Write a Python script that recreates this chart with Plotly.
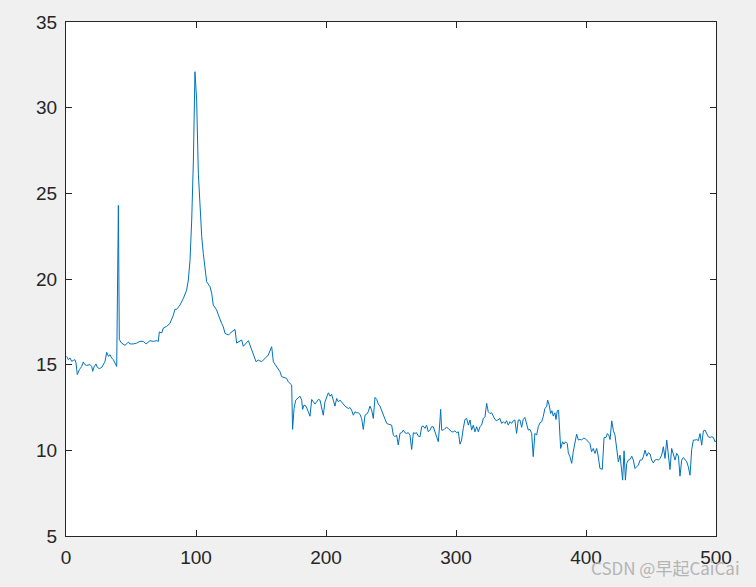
import plotly.graph_objects as go

# values, in x order
x_vals = [
    0.5, 1.8, 3.1, 4.4, 5.7, 6.9, 7.7, 8.7, 10.3, 12.1, 13.3, 14.6, 15.9, 18.5,
    19.8, 20.5, 21.8, 23.1, 24.1, 25.7, 27.5, 28.7, 30.0, 31.3, 32.6, 33.9,
    35.1, 36.4, 37.7, 39.0, 40.3, 41.0, 42.8, 45.4, 48.0, 49.2, 51.8, 54.4,
    56.9, 59.5, 61.6, 62.6, 64.6, 67.2, 69.8, 71.0, 71.8, 73.6, 74.9, 77.5,
    80.0, 82.6, 83.8, 85.1, 87.7, 90.3, 92.8, 94.1, 95.4, 96.7, 98.0, 99.2,
    100.5, 101.8, 103.1, 104.4, 105.6, 106.9, 108.2, 110.8, 112.1, 113.3,
    115.9, 117.2, 118.5, 119.7, 121.0, 122.3, 124.9, 126.2, 130.0, 131.3,
    135.1, 136.4, 140.3, 144.1, 146.2, 147.9, 150.5, 155.6, 158.2, 159.5,
    162.1, 164.6, 165.9, 167.2, 169.7, 171.0, 172.3, 173.6, 174.3, 175.4,
    176.7, 178.7, 180.0, 181.3, 182.0, 183.1, 184.6, 186.4, 187.7, 189.0,
    190.2, 191.5, 192.8, 194.1, 195.4, 196.7, 197.9, 199.2, 200.5, 201.8,
    203.1, 204.3, 205.6, 206.9, 208.2, 209.5, 210.8, 212.0, 213.3, 214.6,
    215.9, 217.2, 218.4, 219.7, 221.0, 222.3, 223.6, 224.9, 226.1, 227.4,
    228.7, 230.0, 231.3, 232.5, 233.8, 235.1, 236.4, 237.7, 239.0, 240.2,
    241.5, 242.8, 244.1, 245.4, 246.7, 247.9, 249.2, 250.5, 251.8, 253.1,
    254.3, 255.6, 256.9, 258.2, 259.5, 260.7, 262.0, 263.3, 264.6, 265.9,
    267.2, 268.4, 269.7, 271.0, 272.3, 273.6, 274.8, 276.1, 277.4, 278.7,
    280.0, 281.3, 282.5, 283.8, 285.1, 286.4, 287.7, 288.2, 289.0, 290.2,
    291.5, 292.8, 294.1, 295.4, 296.7, 297.9, 299.2, 300.5, 301.8, 303.1,
    304.3, 305.6, 306.9, 308.2, 309.5, 310.8, 312.0, 313.3, 314.6, 315.9,
    317.2, 318.4, 319.7, 321.0, 322.3, 323.6, 324.8, 326.1, 327.4, 328.7,
    330.0, 331.3, 332.5, 333.8, 335.1, 336.4, 337.7, 338.9, 340.2, 341.5,
    342.8, 344.1, 345.3, 346.6, 347.9, 349.2, 350.5, 351.7, 353.0, 354.3,
    355.6, 356.9, 358.2, 359.4, 360.7, 362.0, 363.3, 364.6, 365.9, 367.1,
    368.4, 369.7, 370.5, 371.7, 372.8, 373.8, 374.8, 376.1, 376.9, 377.9,
    378.9, 380.5, 382.0, 383.0, 384.3, 385.6, 386.4, 387.6, 389.0, 390.2,
    391.5, 392.8, 394.1, 395.3, 396.6, 397.9, 399.2, 400.5, 401.7, 403.0,
    404.3, 405.6, 406.9, 408.2, 409.4, 410.7, 412.5, 413.9, 415.4, 416.4,
    417.5, 418.5, 419.8, 421.1, 422.3, 423.6, 424.9, 426.2, 427.0, 428.2,
    429.3, 430.3, 431.3, 432.6, 433.9, 435.2, 436.4, 437.7, 439.0, 440.3,
    441.6, 442.9, 444.1, 445.4, 446.7, 448.0, 449.3, 450.5, 451.8, 453.1,
    454.4, 455.7, 457.0, 458.2, 459.5, 460.8, 462.1, 463.4, 464.6, 465.9,
    467.2, 468.5, 469.8, 471.1, 472.3, 473.6, 474.9, 476.2, 477.5, 478.7,
    480.0, 481.3, 482.6, 483.9, 485.2, 486.4, 487.7, 489.0, 490.3, 491.6,
    492.9, 494.1, 495.4, 496.7, 498.0, 499.2, 500.0,
]

y_vals = [
    15.49, 15.29, 15.39, 15.19, 15.25, 15.29, 15.10, 14.42, 14.71, 14.90, 15.16,
    15.00, 14.96, 15.00, 14.90, 14.61, 14.90, 15.04, 14.84, 14.77, 14.84, 15.00,
    15.19, 15.72, 15.49, 15.58, 15.39, 15.29, 15.10, 14.90, 24.30, 16.46, 16.26,
    16.13, 16.32, 16.21, 16.21, 16.26, 16.36, 16.36, 16.21, 16.26, 16.40, 16.36,
    16.40, 16.36, 16.91, 16.85, 17.14, 17.24, 17.41, 17.90, 18.23, 18.23, 18.48,
    18.87, 19.35, 19.94, 21.10, 23.44, 26.94, 32.10, 30.45, 26.17, 24.22, 22.47,
    21.50, 20.52, 19.84, 19.55, 19.16, 18.48, 18.19, 17.90, 17.60, 17.41, 17.21,
    16.83, 16.73, 16.83, 17.06, 16.26, 16.44, 16.07, 16.40, 15.66, 15.17, 15.27,
    15.17, 15.56, 16.05, 15.17, 14.88, 14.59, 14.30, 14.25, 14.20, 14.00, 13.87,
    13.81, 11.22, 12.44, 12.93, 13.09, 13.16, 12.93, 12.39, 12.64, 12.58, 12.25,
    11.99, 12.97, 12.83, 12.70, 12.83, 12.97, 12.93, 12.44, 12.05, 12.83, 13.16,
    13.36, 13.16, 13.28, 12.93, 12.58, 13.03, 12.83, 12.93, 12.78, 12.70, 12.58,
    12.50, 12.44, 12.50, 12.35, 12.05, 12.25, 12.19, 12.19, 12.11, 11.86, 11.22,
    12.05, 12.11, 12.25, 12.58, 12.35, 11.86, 13.09, 12.97, 12.70, 12.58, 12.35,
    12.05, 11.86, 11.57, 11.53, 11.50, 11.47, 10.89, 10.79, 10.89, 10.31, 10.99,
    11.03, 11.18, 11.03, 10.99, 11.03, 10.89, 10.05, 11.03, 10.99, 11.03, 10.83,
    10.79, 11.38, 11.42, 11.28, 11.47, 11.08, 11.18, 11.38, 11.38, 11.08, 10.83,
    10.50, 11.77, 12.39, 11.18, 11.18, 11.28, 11.34, 11.28, 11.18, 11.08, 11.08,
    11.14, 11.03, 11.08, 10.36, 10.60, 11.28, 11.80, 11.86, 11.47, 11.77, 11.18,
    11.47, 11.08, 11.38, 11.08, 11.38, 11.47, 11.86, 11.96, 12.74, 12.25, 12.15,
    12.19, 12.00, 11.80, 11.73, 11.80, 11.86, 11.57, 11.67, 11.57, 11.73, 11.47,
    11.67, 11.57, 11.73, 11.77, 10.99, 11.77, 11.77, 11.34, 11.80, 11.92, 11.53,
    11.18, 11.22, 10.99, 9.63, 10.99, 10.89, 11.38, 11.61, 11.67, 11.96, 12.45,
    12.54, 12.93, 12.64, 12.15, 12.31, 12.00, 12.19, 11.80, 12.31, 12.35, 10.11,
    10.50, 10.36, 10.50, 10.40, 9.86, 9.63, 9.24, 9.92, 10.40, 10.95, 10.60,
    10.64, 10.60, 10.70, 10.70, 10.60, 10.50, 10.40, 9.92, 10.11, 9.82, 10.11,
    9.66, 8.94, 8.89, 10.75, 10.75, 10.98, 10.89, 10.63, 11.72, 11.14, 10.89,
    10.01, 9.33, 9.72, 9.14, 8.26, 9.97, 8.26, 9.23, 9.43, 9.47, 9.66, 9.43,
    8.94, 9.04, 9.14, 9.43, 9.43, 9.62, 10.01, 9.66, 9.86, 9.78, 9.43, 9.27,
    9.43, 9.47, 9.43, 9.53, 9.72, 10.21, 9.53, 10.60, 9.53, 8.88, 10.11, 9.72,
    9.43, 9.82, 9.66, 8.49, 9.43, 9.58, 9.47, 9.33, 9.04, 8.55, 10.05, 10.60,
    10.60, 10.63, 10.56, 10.98, 10.30, 11.14, 11.18, 10.95, 10.79, 10.75, 10.79,
    10.75, 10.50, 10.56,
]

x_ticks = [0, 100, 200, 300, 400, 500]
y_ticks = [5, 10, 15, 20, 25, 30, 35]

AXIS_COLOR = "#262626"
FONT = "Liberation Sans, Arial, sans-serif"

fig = go.Figure()
fig.add_trace(go.Scatter(
    x=x_vals, y=y_vals, mode="lines",
    line=dict(color="#0072BD", width=1),
    showlegend=False, hoverinfo="x+y",
))

axis_common = dict(
    showgrid=False, zeroline=False,
    showline=True, linecolor=AXIS_COLOR, linewidth=1,
    mirror="ticks", ticks="inside", ticklen=6, tickcolor=AXIS_COLOR,
    tickfont=dict(family=FONT, size=19, color=AXIS_COLOR),
    ticklabelstandoff=4,
)

fig.update_xaxes(range=[0, 500], tickvals=x_ticks, **axis_common)
fig.update_yaxes(range=[5, 35], tickvals=y_ticks, **axis_common)

fig.update_layout(
    width=756, height=587,
    paper_bgcolor="#f0f0f0", plot_bgcolor="white",
    margin=dict(l=66, r=40, t=22, b=51),
    font=dict(family=FONT),
)

# watermark in the bottom right corner (overlaps the 500 label, as in the source)
fig.add_annotation(
    text="CSDN @早起CaiCai", xref="paper", yref="paper",
    x=0.923, y=-0.062, xanchor="center", yanchor="middle", showarrow=False,
    font=dict(family="Noto Sans CJK SC, sans-serif", size=17, color="#b4b4b4"),
)

# browser body margin would push the figure 8px off the corner
fig.write_html(
    "out.html",
    config={"displayModeBar": False},
    post_script="document.body.style.margin='0';"
                "document.body.style.background='#f0f0f0';",
)
